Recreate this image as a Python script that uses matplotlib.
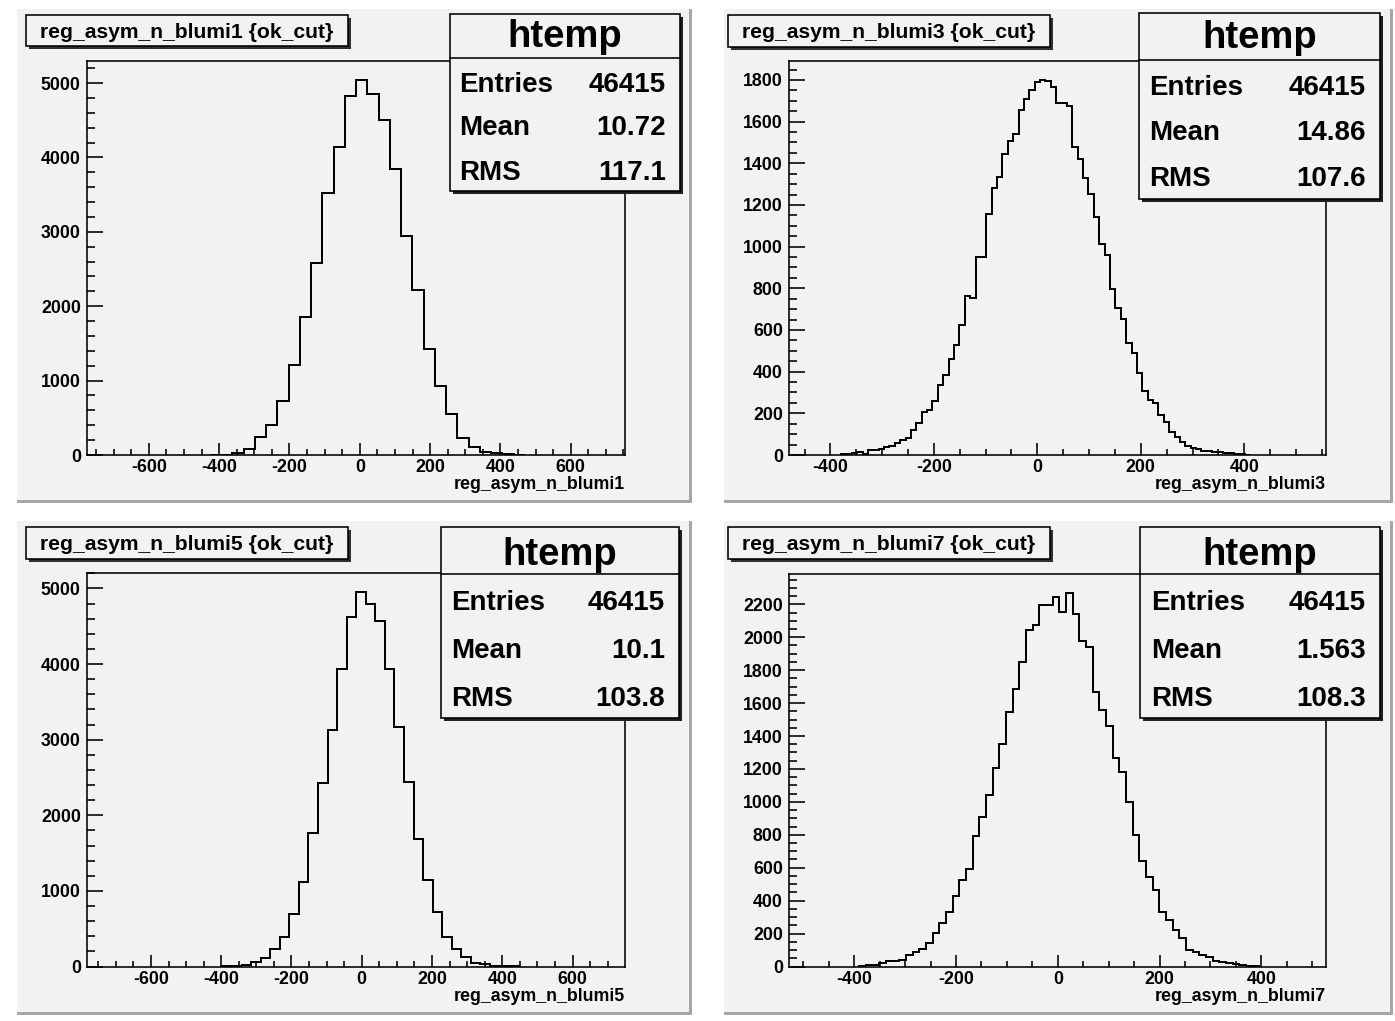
import matplotlib
matplotlib.use("Agg")
import matplotlib.pyplot as plt
from matplotlib.patches import Rectangle
from matplotlib.ticker import MultipleLocator, FormatStrFormatter
import numpy as np

plt.rcParams["font.family"] = ["Liberation Sans", "DejaVu Sans"]
plt.rcParams["axes.unicode_minus"] = False

# ---------------- data ----------------
h1_start, h1_width = -426.5, 32.0
h1_counts = [2, 6, 30, 85, 240, 404, 728, 1213, 1851, 2575, 3518, 4142, 4829,
             5045, 4852, 4503, 3841, 2938, 2224, 1429, 934, 548, 234, 105, 45,
             22, 10, 3]

h3_start, h3_width = -379.5, 10.4
h3_counts = [3, 5, 8, 16, 3, 24, 24, 27, 37, 45, 56, 72, 83, 120, 152, 204, 217,
             261, 337, 385, 460, 526, 626, 762, 754, 948, 948, 1155, 1283, 1336,
             1444, 1508, 1540, 1657, 1711, 1752, 1788, 1801, 1795, 1764, 1689,
             1689, 1676, 1480, 1423, 1331, 1251, 1142, 1011, 962, 797, 706, 653,
             537, 489, 393, 308, 265, 249, 192, 160, 112, 88, 64, 43, 35, 27, 19,
             19, 13, 16, 8, 8, 5, 3, 2]

h5_start, h5_width = -396.5, 27.2
h5_counts = [2, 6, 15, 57, 115, 225, 388, 688, 1116, 1768, 2421, 3127, 3938,
             4626, 4957, 4789, 4569, 3938, 3166, 2443, 1693, 1138, 723, 388, 225,
             123, 49, 30, 12, 5, 2]

h7_start, h7_width = -390.0, 13.1
h7_counts = [4, 8, 10, 22, 32, 32, 42, 69, 87, 107, 143, 204, 265, 329, 430, 527,
             592, 790, 907, 1042, 1204, 1349, 1547, 1685, 1850, 2046, 2077, 2195,
             2194, 2244, 2153, 2270, 2143, 1976, 1941, 1669, 1557, 1462, 1269,
             1180, 1002, 800, 638, 541, 467, 331, 285, 224, 174, 103, 89, 69, 57,
             36, 28, 24, 18, 12, 6, 3]

titles = ["reg_asym_n_blumi1 {ok_cut}", "reg_asym_n_blumi3 {ok_cut}",
          "reg_asym_n_blumi5 {ok_cut}", "reg_asym_n_blumi7 {ok_cut}"]
xlabels = ["reg_asym_n_blumi1", "reg_asym_n_blumi3",
           "reg_asym_n_blumi5", "reg_asym_n_blumi7"]
stat_names = ["Entries", "Mean", "RMS"]
entries = ["46415", "46415", "46415", "46415"]
means = ["10.72", "14.86", "10.1", "1.563"]
rmss = ["117.1", "107.6", "103.8", "108.3"]
x_ranges = [(-776, 753), (-480, 557), (-782, 748), (-528, 526)]
y_max = [5297, 1891, 5205, 2384]
y_major = [1000, 200, 1000, 200]
y_minor = [200, 50, 200, 50]

hists = [(h1_start, h1_width, h1_counts), (h3_start, h3_width, h3_counts),
         (h5_start, h5_width, h5_counts), (h7_start, h7_width, h7_counts)]

# ---------------- layout (pixels) ----------------
W, H, DPI = 1395, 1021, 100
PADC = "#f2f2f2"
PT = 72.0 / DPI

pads = [(15, 7, 692, 503), (722, 7, 1393, 503), (15, 519, 692, 1015), (722, 519, 1393, 1015)]
frames = [(87, 61, 624.5, 455), (789, 61, 1325.5, 455), (87, 573, 624.5, 966.5), (789, 574, 1325.5, 966.5)]
tboxes = [(26, 15, 348, 46.5), (727.5, 15, 1050, 47), (26, 527, 348, 559), (727.5, 527, 1050, 559)]
sboxes = [(449.5, 14, 679.5, 191.5), (1139, 13.5, 1380, 199), (440.5, 527, 678.5, 717.5), (1140, 527, 1380, 718)]
sseps = [58.5, 60, 574, 574]
srows = [[91.5, 135, 180], [95, 140, 186], [610, 658, 706], [610, 658, 706]]
slab_x = [459, 1149, 451, 1151]
sval_x = [666, 1366, 665, 1366]
htemp_base = [47, 48.5, 565, 565]
xlab_base = [489, 489, 1001, 1001]


def fr(x0, y0, x1, y1):
    return [x0 / W, 1 - y1 / H, (x1 - x0) / W, (y1 - y0) / H]


fig = plt.figure(figsize=(W / DPI, H / DPI), dpi=DPI)
fig.patch.set_facecolor("white")

bg = fig.add_axes([0, 0, 1, 1], zorder=-10)
bg.set_xlim(0, W); bg.set_ylim(H, 0); bg.axis("off")
ov = fig.add_axes([0, 0, 1, 1], zorder=10)
ov.set_xlim(0, W); ov.set_ylim(H, 0); ov.axis("off")

for i in range(4):
    px0, py0, px1, py1 = pads[i]
    bg.add_patch(Rectangle((px0, py0), px1 - px0, py1 - py0, fc=PADC, ec="none"))
    bg.add_patch(Rectangle((px0, py1 - 3), px1 - px0, 3, fc="#a6a6a6", ec="none"))
    bg.add_patch(Rectangle((px1 - 3, py0), 3, py1 - py0, fc="#a6a6a6", ec="none"))
    bg.add_patch(Rectangle((px0, py0), px1 - px0, 2, fc="#ffffff", ec="none"))
    bg.add_patch(Rectangle((px0, py0), 2, py1 - py0, fc="#ffffff", ec="none"))

    fx0, fy0, fx1, fy1 = frames[i]
    ax = fig.add_axes(fr(fx0, fy0, fx1, fy1), zorder=1)
    ax.set_facecolor(PADC)
    start, width, counts = hists[i]
    edges = np.array([start + k * width for k in range(len(counts) + 1)])
    ax.stairs(counts, edges, color="black", lw=2.0 * PT, baseline=0)
    ax.set_xlim(*x_ranges[i])
    ax.set_ylim(0, y_max[i])
    for s in ax.spines.values():
        s.set_linewidth(1.6 * PT)
    ax.xaxis.set_major_locator(MultipleLocator(200))
    ax.xaxis.set_minor_locator(MultipleLocator(50))
    ax.yaxis.set_major_locator(MultipleLocator(y_major[i]))
    ax.yaxis.set_minor_locator(MultipleLocator(y_minor[i]))
    ax.xaxis.set_major_formatter(FormatStrFormatter("%d"))
    ax.yaxis.set_major_formatter(FormatStrFormatter("%d"))
    fh = fy1 - fy0
    fw = fx1 - fx0
    ax.tick_params(axis="x", which="major", direction="in", length=0.03 * fh * PT,
                   width=1.6 * PT, top=False, pad=3.0, labelsize=12.8)
    ax.tick_params(axis="x", which="minor", direction="in", length=0.015 * fh * PT,
                   width=1.6 * PT, top=False)
    ax.tick_params(axis="y", which="major", direction="in", length=0.03 * fw * PT,
                   width=1.6 * PT, right=False, pad=4.5, labelsize=12.8)
    ax.tick_params(axis="y", which="minor", direction="in", length=0.015 * fw * PT,
                   width=1.6 * PT, right=False)
    for lab in ax.get_xticklabels() + ax.get_yticklabels():
        lab.set_fontweight("bold")
    ax.set_xlabel(xlabels[i], fontsize=12.8, fontweight="bold")
    ax.xaxis.label.set_va("baseline")
    ax.xaxis.label.set_ha("right")
    ax.xaxis.set_label_coords(1.0, -(xlab_base[i] - fy1) / fh)

    # title box
    tx0, ty0, tx1, ty1 = tboxes[i]
    ov.add_patch(Rectangle((tx0 + 3, ty0 + 3), tx1 - tx0, ty1 - ty0, fc="#303030", ec="none"))
    ov.add_patch(Rectangle((tx0, ty0), tx1 - tx0, ty1 - ty0, fc=PADC, ec="black", lw=1.6 * PT))
    ov.text((tx0 + tx1) / 2, (ty0 + ty1) / 2 + 7, titles[i], ha="center", va="baseline",
            fontsize=15.2, fontweight="bold")

    # stats box
    sx0, sy0, sx1, sy1 = sboxes[i]
    ov.add_patch(Rectangle((sx0 + 3, sy0 + 3), sx1 - sx0, sy1 - sy0, fc="#202020", ec="none"))
    ov.add_patch(Rectangle((sx0, sy0), sx1 - sx0, sy1 - sy0, fc=PADC, ec="black", lw=1.6 * PT))
    ov.plot([sx0, sx1], [sseps[i], sseps[i]], color="black", lw=1.6 * PT)
    ov.text((sx0 + sx1) / 2, htemp_base[i], "htemp", ha="center", va="baseline",
            fontsize=27.5, fontweight="bold")
    vals = [entries[i], means[i], rmss[i]]
    for r in range(3):
        ov.text(slab_x[i], srows[i][r], stat_names[r], ha="left", va="baseline",
                fontsize=20, fontweight="bold")
        ov.text(sval_x[i], srows[i][r], vals[r], ha="right", va="baseline",
                fontsize=20, fontweight="bold")

fig.savefig("out.png", dpi=DPI, facecolor="white")
